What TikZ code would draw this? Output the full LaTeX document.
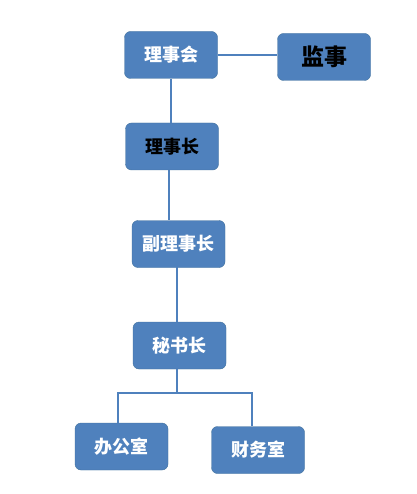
\documentclass[tikz,border=0pt]{standalone}
\usepackage{fontspec}
\usepackage{xcolor}
\usetikzlibrary{positioning, calc}
\newfontfamily\cjk{Noto Sans CJK SC}
\definecolor{azul}{HTML}{4F81BD}
\definecolor{azuloscuro}{HTML}{41719C}
\tikzset{
  every picture/.style={font=\cjk},
  caja/.style={draw=azuloscuro, fill=azul, text=white, thin, rounded corners=6pt,
               minimum width=93pt, minimum height=47pt, inner sep=2pt,
               font=\cjk\bfseries\fontsize{18}{21}\selectfont, align=center},
  cajan/.style={caja, text=black},
  linea/.style={azul, line width=1.6pt},
}
\begin{document}
\begin{tikzpicture}[x=1pt, y=-1pt]
  \useasboundingbox[fill=white] (0,0) rectangle (416,494);
  \node[caja] (hui) at (171,55) {理事会};
  \node[cajan, font=\cjk\bfseries\fontsize{23}{27}\selectfont] (jian) at (324,57) {监事};
  \node[cajan] (zhang) at (172,146.5) {理事长};
  \node[caja] (fu) at (178.5,244) {副理事长};
  \node[caja] (mi) at (179.5,345.5) {秘书长};
  \node[caja] (ban) at (121.5,446.5) {办公室};
  \node[caja] (cai) at (258,450) {财务室};
  \coordinate (fork) at (177,393);
  \draw[linea] (hui.east) -- (hui.east -| jian.west);
  \draw[linea] (hui.south) -- (hui.south |- zhang.north);
  \draw[linea] ([xshift=-3pt]zhang.south) -- ([xshift=-3pt]zhang.south |- fu.north);
  \draw[linea] ([yshift=5pt]fu.south -| fork) -- (fork |- mi.north);
  \draw[linea] (mi.south -| fork) -- (fork);
  \draw[linea] (fork) -| ([xshift=-3.5pt]ban.north);
  \draw[linea] (fork) -| ([xshift=-6pt]cai.north);
\end{tikzpicture}
\end{document}
